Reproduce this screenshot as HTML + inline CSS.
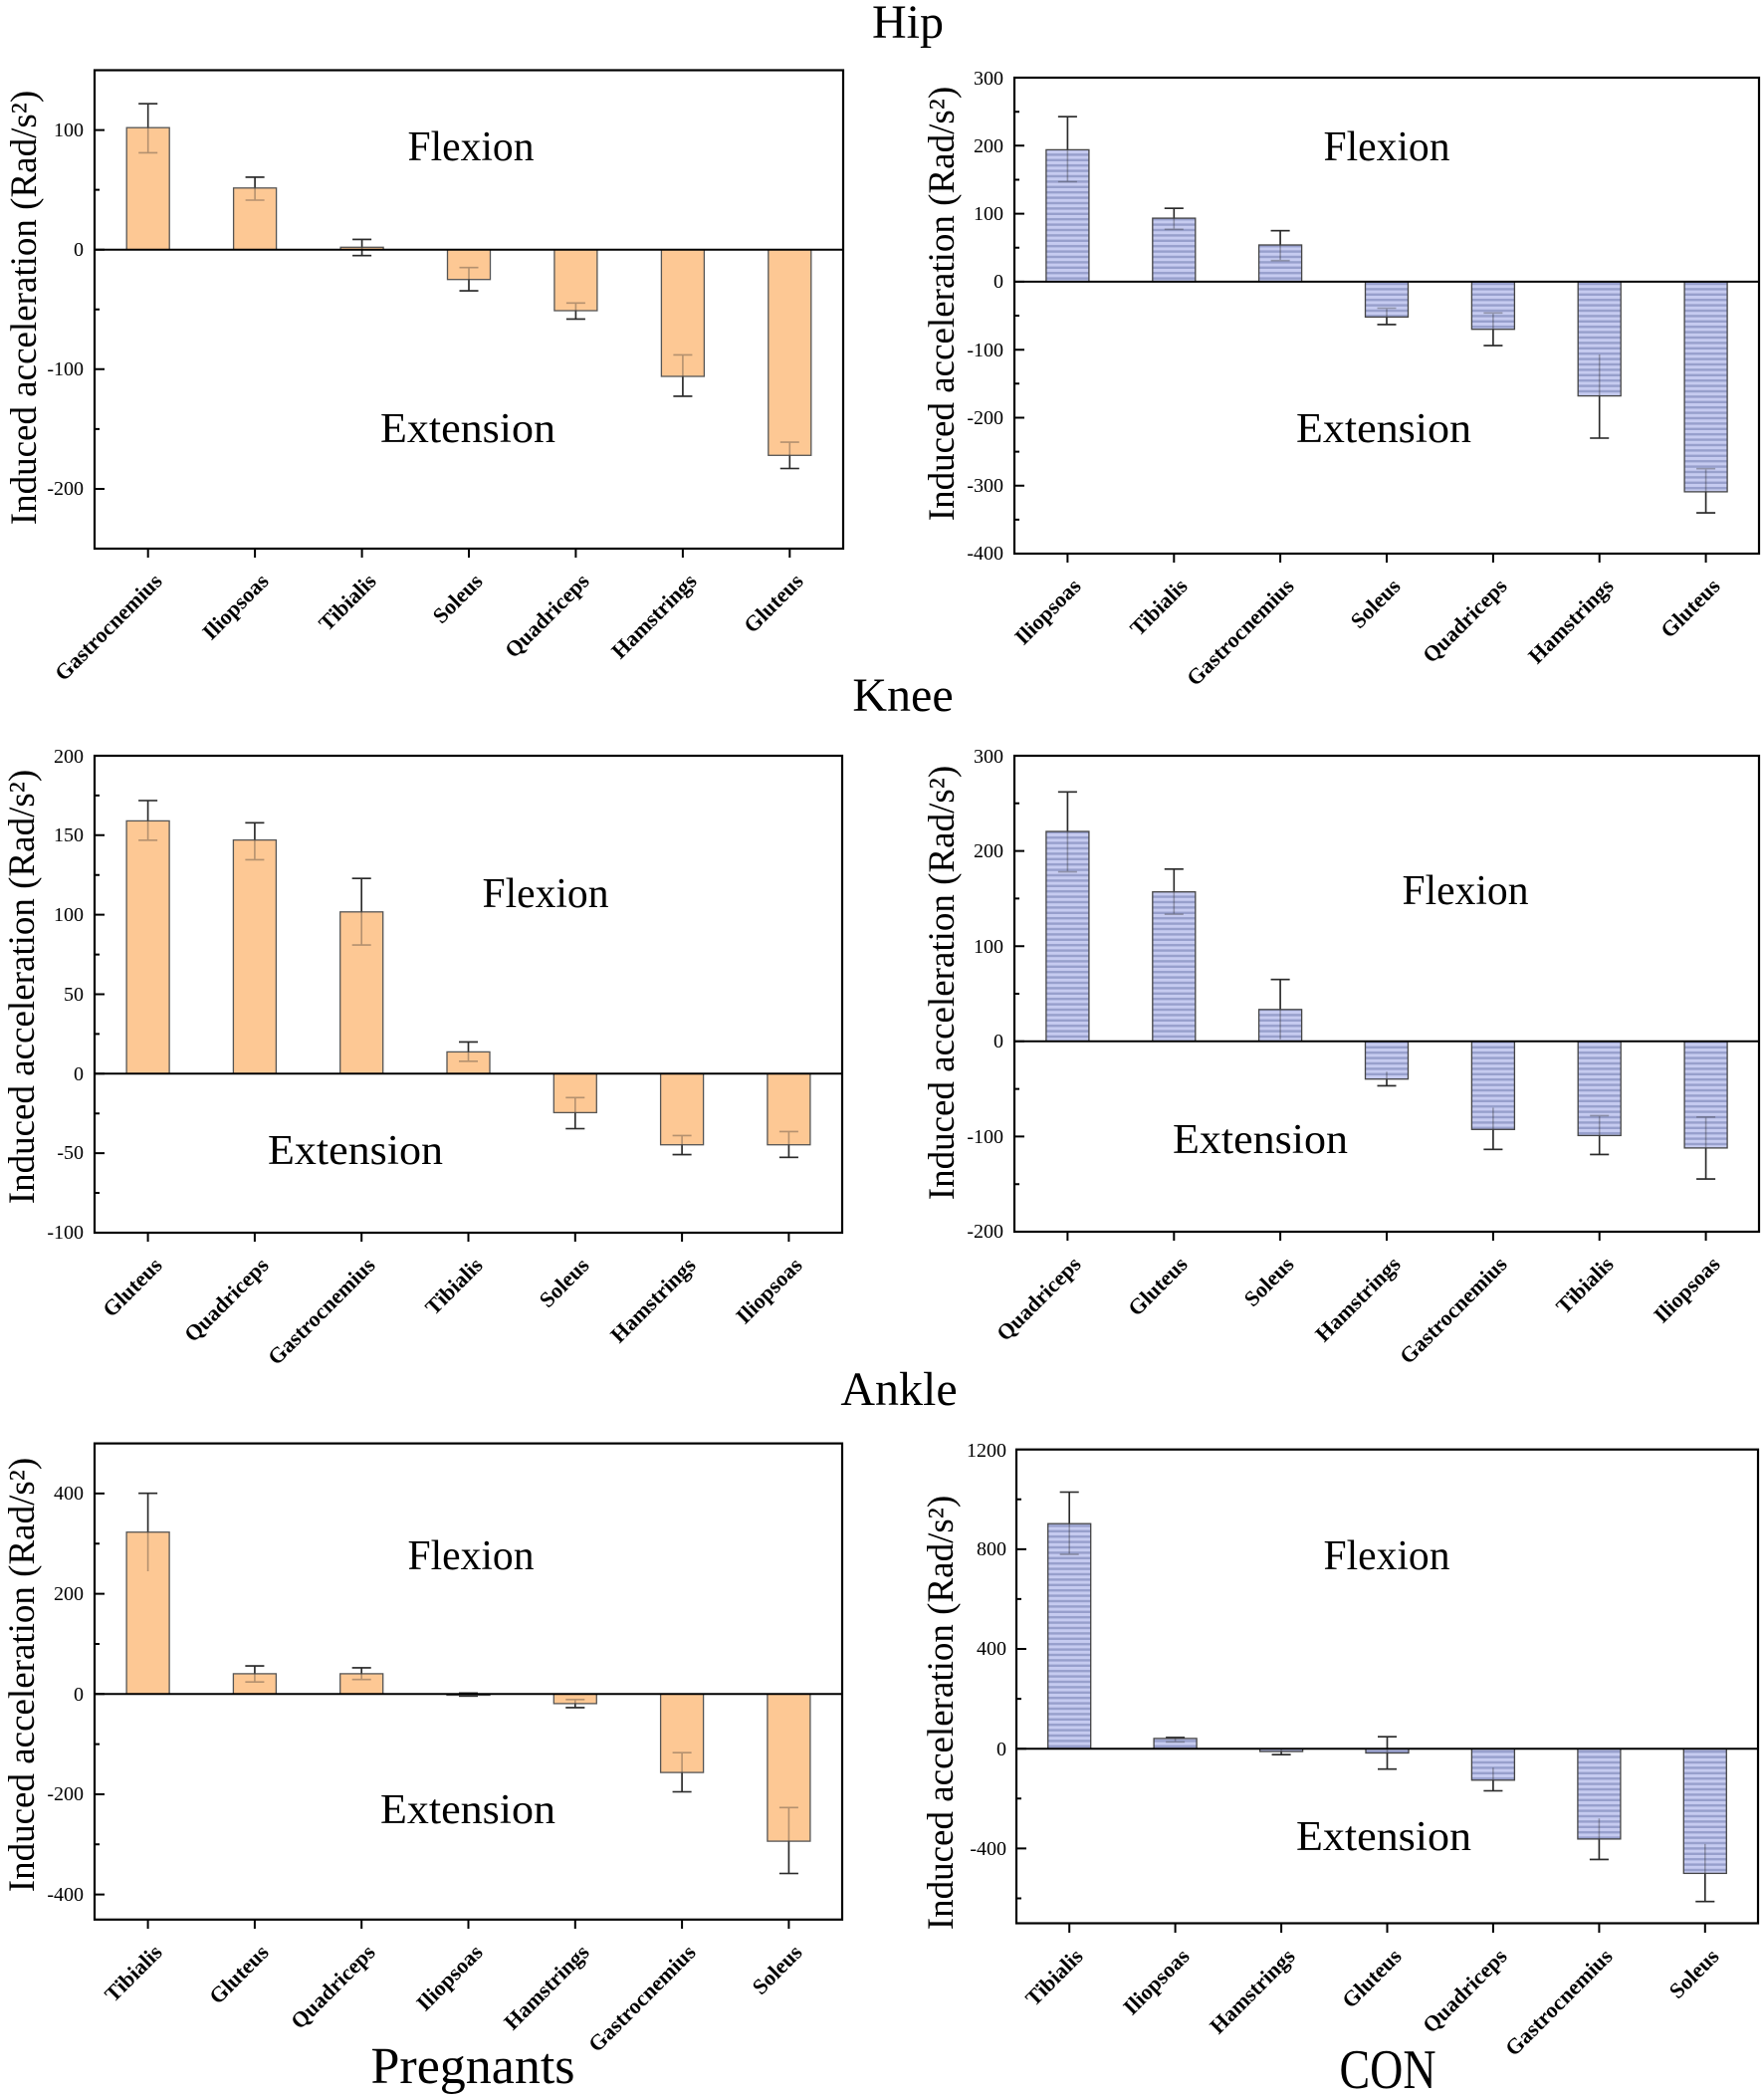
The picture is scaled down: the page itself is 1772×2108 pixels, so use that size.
<!DOCTYPE html>
<html><head><meta charset="utf-8"><style>
html,body{margin:0;padding:0;background:#fff;}
svg{display:block;}
text{font-family:"Liberation Serif","Times New Roman",serif;fill:#000;}
.tl{font-size:20px;text-anchor:end;}
.cl{font-size:22px;font-weight:bold;text-anchor:end;}
.yt{font-size:37px;text-anchor:middle;}
.fe{font-size:42px;text-anchor:middle;}
.tt{font-size:48px;text-anchor:middle;}
.box{fill:none;stroke:#000;stroke-width:2.2;}
.zero{stroke:#000;stroke-width:2;}
.tk{stroke:#000;stroke-width:2;fill:none;}
.err{stroke:#2a2a2a;stroke-width:1.6;fill:none;}
.ov{opacity:0.35;}
.ob{fill:#fdc894;stroke:#555;stroke-width:1.3;}
.bb{fill:url(#stripe);stroke:#444;stroke-width:1.3;}
</style></head><body>
<svg width="1772" height="2108" viewBox="0 0 1772 2108" xmlns="http://www.w3.org/2000/svg">
<defs>
<pattern id="stripe" patternUnits="userSpaceOnUse" width="10" height="5.4">
<rect x="0" y="0" width="10" height="5.4" fill="#c6cbf0"/>
<rect x="0" y="3" width="10" height="2.4" fill="#979fcc"/>
</pattern>
</defs>
<rect width="1772" height="2108" fill="#fff"/>

<!-- Titles -->
<text class="tt" x="912" y="38">Hip</text>
<text class="tt" x="907" y="714">Knee</text>
<text class="tt" x="903" y="1411">Ankle</text>
<text x="475" y="2092" style="font-size:52px;text-anchor:middle;">Pregnants</text>
<text x="1394" y="2097" style="font-size:56px;text-anchor:middle;" textLength="97" lengthAdjust="spacingAndGlyphs">CON</text>

<!-- ================= Panel A: Pregnant Hip ================= -->
<g>
<path id="eA" class="err" d="M148.7 104.2V153.4M139.2 104.2H158.2M139.2 153.4H158.2
M256.1 177.9V201M246.6 177.9H265.6M246.6 201H265.6
M363.6 240.4V256.7M354.1 240.4H373.1M354.1 256.7H373.1
M471 268.7V292.1M461.5 268.7H480.5M461.5 292.1H480.5
M578.4 304.3V320.4M568.9 304.3H587.9M568.9 320.4H587.9
M685.9 356.4V397.9M676.4 356.4H695.4M676.4 397.9H695.4
M793.3 444.1V470.5M783.8 444.1H802.8M783.8 470.5H802.8"/>
<rect class="ob" x="127.2" y="128.2" width="43" height="122.5"/>
<rect class="ob" x="234.6" y="188.8" width="43" height="61.9"/>
<rect class="ob" x="342.1" y="248.3" width="43" height="2.4"/>
<rect class="ob" x="449.5" y="250.7" width="43" height="30"/>
<rect class="ob" x="556.9" y="250.7" width="43" height="61.3"/>
<rect class="ob" x="664.4" y="250.7" width="43" height="127.3"/>
<rect class="ob" x="771.8" y="250.7" width="43" height="206.6"/>
<use href="#eA" class="ov"/>
<line class="zero" x1="95" y1="250.7" x2="847" y2="250.7"/>
<rect class="box" x="95" y="70.5" width="752" height="480.5"/>
<path class="tk" d="M95 130.6H105M95 250.7H105M95 370.8H105M95 491H105M95 190.6H100M95 310.8H100M95 430.9H100
M148.7 551V560M256.1 551V560M363.6 551V560M471 551V560M578.4 551V560M685.9 551V560M793.3 551V560"/>
<text class="tl" x="84" y="137">100</text>
<text class="tl" x="84" y="257">0</text>
<text class="tl" x="84" y="377">-100</text>
<text class="tl" x="84" y="497">-200</text>
<text class="cl" transform="translate(164,585) rotate(-45)">Gastrocnemius</text>
<text class="cl" transform="translate(271,585) rotate(-45)">Iliopsoas</text>
<text class="cl" transform="translate(379,585) rotate(-45)">Tibialis</text>
<text class="cl" transform="translate(486,585) rotate(-45)">Soleus</text>
<text class="cl" transform="translate(593,585) rotate(-45)">Quadriceps</text>
<text class="cl" transform="translate(701,585) rotate(-45)">Hamstrings</text>
<text class="cl" transform="translate(808,585) rotate(-45)">Gluteus</text>
<text class="yt" transform="translate(36,309) rotate(-90)">Induced acceleration (Rad/s²)</text>
<text class="fe" x="473" y="161" textLength="127" lengthAdjust="spacingAndGlyphs">Flexion</text>
<text class="fe" x="470" y="444" textLength="176" lengthAdjust="spacingAndGlyphs">Extension</text>
</g>

<!-- ================= Panel B: CON Hip ================= -->
<g>
<path id="eB" class="err" d="M1072.4 117.2V182.5M1062.9 117.2H1081.9M1062.9 182.5H1081.9
M1179.3 209.2V230.3M1169.8 209.2H1188.8M1169.8 230.3H1188.8
M1286.1 231.7V261.7M1276.6 231.7H1295.6M1276.6 261.7H1295.6
M1393 309.5V325.9M1383.5 309.5H1402.5M1383.5 325.9H1402.5
M1499.9 314.3V347.1M1490.4 314.3H1509.4M1490.4 347.1H1509.4
M1606.7 356V440M1597.2 440H1616.2
M1713.6 470.7V515.1M1704.1 470.7H1723.1M1704.1 515.1H1723.1"/>
<rect class="bb" x="1050.9" y="150.4" width="43" height="132.5"/>
<rect class="bb" x="1157.8" y="219.1" width="43" height="63.8"/>
<rect class="bb" x="1264.6" y="246" width="43" height="36.9"/>
<rect class="bb" x="1371.5" y="282.9" width="43" height="35.5"/>
<rect class="bb" x="1478.4" y="282.9" width="43" height="47.8"/>
<rect class="bb" x="1585.2" y="282.9" width="43" height="114.7"/>
<rect class="bb" x="1692.1" y="282.9" width="43" height="211"/>
<use href="#eB" class="ov"/>
<line class="zero" x1="1019" y1="282.9" x2="1767" y2="282.9"/>
<rect class="box" x="1019" y="78" width="748" height="478"/>
<path class="tk" d="M1019 146.3H1029M1019 214.6H1029M1019 282.9H1029M1019 351.2H1029M1019 419.5H1029M1019 487.8H1029
M1019 112.2H1024M1019 180.5H1024M1019 248.8H1024M1019 317H1024M1019 385.3H1024M1019 453.6H1024M1019 521.9H1024
M1072.4 556V565M1179.3 556V565M1286.1 556V565M1393 556V565M1499.9 556V565M1606.7 556V565M1713.6 556V565"/>
<text class="tl" x="1008" y="85">300</text>
<text class="tl" x="1008" y="153">200</text>
<text class="tl" x="1008" y="221">100</text>
<text class="tl" x="1008" y="289">0</text>
<text class="tl" x="1008" y="358">-100</text>
<text class="tl" x="1008" y="426">-200</text>
<text class="tl" x="1008" y="494">-300</text>
<text class="tl" x="1008" y="562">-400</text>
<text class="cl" transform="translate(1087,590) rotate(-45)">Iliopsoas</text>
<text class="cl" transform="translate(1194,590) rotate(-45)">Tibialis</text>
<text class="cl" transform="translate(1301,590) rotate(-45)">Gastrocnemius</text>
<text class="cl" transform="translate(1408,590) rotate(-45)">Soleus</text>
<text class="cl" transform="translate(1515,590) rotate(-45)">Quadriceps</text>
<text class="cl" transform="translate(1622,590) rotate(-45)">Hamstrings</text>
<text class="cl" transform="translate(1729,590) rotate(-45)">Gluteus</text>
<text class="yt" transform="translate(958,305) rotate(-90)">Induced acceleration (Rad/s²)</text>
<text class="fe" x="1393" y="161" textLength="127" lengthAdjust="spacingAndGlyphs">Flexion</text>
<text class="fe" x="1390" y="444" textLength="176" lengthAdjust="spacingAndGlyphs">Extension</text>
</g>

<!-- ================= Panel C: Pregnant Knee ================= -->
<g>
<path id="eC" class="err" d="M148.6 804V843.8M139.1 804H158.1M139.1 843.8H158.1
M255.9 826.3V863.4M246.4 826.3H265.4M246.4 863.4H265.4
M363.2 882.2V949.1M353.7 882.2H372.7M353.7 949.1H372.7
M470.5 1046.4V1065.8M461 1046.4H480M461 1065.8H480
M577.8 1102.3V1133.5M568.3 1102.3H587.3M568.3 1133.5H587.3
M685.1 1140.4V1159.6M675.6 1140.4H694.6M675.6 1159.6H694.6
M792.4 1136.4V1162.3M782.9 1136.4H801.9M782.9 1162.3H801.9"/>
<rect class="ob" x="127.1" y="824.4" width="43" height="253.9"/>
<rect class="ob" x="234.4" y="843.6" width="43" height="234.7"/>
<rect class="ob" x="341.7" y="915.8" width="43" height="162.5"/>
<rect class="ob" x="449" y="1056.4" width="43" height="21.9"/>
<rect class="ob" x="556.3" y="1078.3" width="43" height="39.1"/>
<rect class="ob" x="663.6" y="1078.3" width="43" height="71.4"/>
<rect class="ob" x="770.9" y="1078.3" width="43" height="71.4"/>
<use href="#eC" class="ov"/>
<line class="zero" x1="95" y1="1078.3" x2="846" y2="1078.3"/>
<rect class="box" x="95" y="759" width="751" height="479"/>
<path class="tk" d="M95 838.8H105M95 918.6H105M95 998.5H105M95 1078.3H105M95 1158.1H105
M95 798.9H100M95 878.7H100M95 958.6H100M95 1038.4H100M95 1118.2H100M95 1198H100
M148.6 1238V1247M255.9 1238V1247M363.2 1238V1247M470.5 1238V1247M577.8 1238V1247M685.1 1238V1247M792.4 1238V1247"/>
<text class="tl" x="84" y="766">200</text>
<text class="tl" x="84" y="845">150</text>
<text class="tl" x="84" y="925">100</text>
<text class="tl" x="84" y="1005">50</text>
<text class="tl" x="84" y="1085">0</text>
<text class="tl" x="84" y="1164">-50</text>
<text class="tl" x="84" y="1244">-100</text>
<text class="cl" transform="translate(164,1272) rotate(-45)">Gluteus</text>
<text class="cl" transform="translate(271,1272) rotate(-45)">Quadriceps</text>
<text class="cl" transform="translate(378,1272) rotate(-45)">Gastrocnemius</text>
<text class="cl" transform="translate(486,1272) rotate(-45)">Tibialis</text>
<text class="cl" transform="translate(593,1272) rotate(-45)">Soleus</text>
<text class="cl" transform="translate(700,1272) rotate(-45)">Hamstrings</text>
<text class="cl" transform="translate(807,1272) rotate(-45)">Iliopsoas</text>
<text class="yt" transform="translate(34,991) rotate(-90)">Induced acceleration (Rad/s²)</text>
<text class="fe" x="548" y="911" textLength="127" lengthAdjust="spacingAndGlyphs">Flexion</text>
<text class="fe" x="357" y="1169" textLength="176" lengthAdjust="spacingAndGlyphs">Extension</text>
</g>

<!-- ================= Panel D: CON Knee ================= -->
<g>
<path id="eD" class="err" d="M1072.4 795.3V875.6M1062.9 795.3H1081.9M1062.9 875.6H1081.9
M1179.3 872.8V918.2M1169.8 872.8H1188.8M1169.8 918.2H1188.8
M1286.1 983.7V1043.9M1276.6 983.7H1295.6
M1393 1076.4V1090.4M1383.5 1090.4H1402.5
M1499.9 1112.5V1154.3M1490.4 1154.3H1509.4
M1606.7 1120.4V1159.4M1597.2 1120.4H1616.2M1597.2 1159.4H1616.2
M1713.6 1121.8V1184.1M1704.1 1121.8H1723.1M1704.1 1184.1H1723.1"/>
<rect class="bb" x="1050.9" y="835" width="43" height="210.8"/>
<rect class="bb" x="1157.8" y="895.7" width="43" height="150.1"/>
<rect class="bb" x="1264.6" y="1013.8" width="43" height="32"/>
<rect class="bb" x="1371.5" y="1045.8" width="43" height="37.9"/>
<rect class="bb" x="1478.4" y="1045.8" width="43" height="88.5"/>
<rect class="bb" x="1585.2" y="1045.8" width="43" height="94.6"/>
<rect class="bb" x="1692.1" y="1045.8" width="43" height="107.1"/>
<use href="#eD" class="ov"/>
<line class="zero" x1="1019" y1="1045.8" x2="1767" y2="1045.8"/>
<rect class="box" x="1019" y="759" width="748" height="478"/>
<path class="tk" d="M1019 854.6H1029M1019 950.2H1029M1019 1045.8H1029M1019 1141.4H1029
M1019 806.8H1024M1019 902.4H1024M1019 998H1024M1019 1093.6H1024M1019 1189.2H1024
M1072.4 1237V1246M1179.3 1237V1246M1286.1 1237V1246M1393 1237V1246M1499.9 1237V1246M1606.7 1237V1246M1713.6 1237V1246"/>
<text class="tl" x="1008" y="766">300</text>
<text class="tl" x="1008" y="861">200</text>
<text class="tl" x="1008" y="957">100</text>
<text class="tl" x="1008" y="1052">0</text>
<text class="tl" x="1008" y="1148">-100</text>
<text class="tl" x="1008" y="1243">-200</text>
<text class="cl" transform="translate(1087,1271) rotate(-45)">Quadriceps</text>
<text class="cl" transform="translate(1194,1271) rotate(-45)">Gluteus</text>
<text class="cl" transform="translate(1301,1271) rotate(-45)">Soleus</text>
<text class="cl" transform="translate(1408,1271) rotate(-45)">Hamstrings</text>
<text class="cl" transform="translate(1515,1271) rotate(-45)">Gastrocnemius</text>
<text class="cl" transform="translate(1622,1271) rotate(-45)">Tibialis</text>
<text class="cl" transform="translate(1729,1271) rotate(-45)">Iliopsoas</text>
<text class="yt" transform="translate(958,987) rotate(-90)">Induced acceleration (Rad/s²)</text>
<text class="fe" x="1472" y="908" textLength="127" lengthAdjust="spacingAndGlyphs">Flexion</text>
<text class="fe" x="1266" y="1158" textLength="176" lengthAdjust="spacingAndGlyphs">Extension</text>
</g>

<!-- ================= Panel E: Pregnant Ankle ================= -->
<g>
<path id="eE" class="err" d="M148.6 1499.7V1578M139.1 1499.7H158.1
M255.9 1673.1V1689.2M246.4 1673.1H265.4M246.4 1689.2H265.4
M363.2 1674.9V1686.7M353.7 1674.9H372.7M353.7 1686.7H372.7
M470.5 1700.3V1703.3M461 1700.3H480M461 1703.3H480
M577.8 1706.8V1714.9M568.3 1706.8H587.3M568.3 1714.9H587.3
M685.1 1760.2V1799.5M675.6 1760.2H694.6M675.6 1799.5H694.6
M792.4 1815.3V1881.5M782.9 1815.3H801.9M782.9 1881.5H801.9"/>
<rect class="ob" x="127.1" y="1538.7" width="43" height="162.6"/>
<rect class="ob" x="234.4" y="1680.9" width="43" height="20.4"/>
<rect class="ob" x="341.7" y="1680.9" width="43" height="20.4"/>
<rect class="ob" x="449" y="1701.3" width="43" height="1.2"/>
<rect class="ob" x="556.3" y="1701.3" width="43" height="9.6"/>
<rect class="ob" x="663.6" y="1701.3" width="43" height="78.8"/>
<rect class="ob" x="770.9" y="1701.3" width="43" height="147.8"/>
<use href="#eE" class="ov"/>
<line class="zero" x1="95" y1="1701.3" x2="846" y2="1701.3"/>
<rect class="box" x="95" y="1449.6" width="751" height="478.2"/>
<path class="tk" d="M95 1499.9H105M95 1600.6H105M95 1701.3H105M95 1802H105M95 1902.6H105
M95 1550.3H100M95 1651H100M95 1751.6H100M95 1852.3H100
M148.6 1927.8V1937M255.9 1927.8V1937M363.2 1927.8V1937M470.5 1927.8V1937M577.8 1927.8V1937M685.1 1927.8V1937M792.4 1927.8V1937"/>
<text class="tl" x="84" y="1506">400</text>
<text class="tl" x="84" y="1607">200</text>
<text class="tl" x="84" y="1708">0</text>
<text class="tl" x="84" y="1808">-200</text>
<text class="tl" x="84" y="1909">-400</text>
<text class="cl" transform="translate(164,1962) rotate(-45)">Tibialis</text>
<text class="cl" transform="translate(271,1962) rotate(-45)">Gluteus</text>
<text class="cl" transform="translate(378,1962) rotate(-45)">Quadriceps</text>
<text class="cl" transform="translate(486,1962) rotate(-45)">Iliopsoas</text>
<text class="cl" transform="translate(593,1962) rotate(-45)">Hamstrings</text>
<text class="cl" transform="translate(700,1962) rotate(-45)">Gastrocnemius</text>
<text class="cl" transform="translate(807,1962) rotate(-45)">Soleus</text>
<text class="yt" transform="translate(34,1682) rotate(-90)">Induced acceleration (Rad/s²)</text>
<text class="fe" x="473" y="1576" textLength="127" lengthAdjust="spacingAndGlyphs">Flexion</text>
<text class="fe" x="470" y="1831" textLength="176" lengthAdjust="spacingAndGlyphs">Extension</text>
</g>

<!-- ================= Panel F: CON Ankle ================= -->
<g>
<path id="eF" class="err" d="M1074.2 1498.5V1561.1M1064.7 1498.5H1083.7M1064.7 1561.1H1083.7
M1180.6 1744.9V1749.4M1171.1 1744.9H1190.1M1171.1 1749.4H1190.1
M1287.1 1757V1762.2M1277.6 1762.2H1296.6
M1393.5 1744.2V1776.7M1384 1744.2H1403M1384 1776.7H1403
M1499.9 1775.2V1798.5M1490.4 1798.5H1509.4
M1606.4 1826.3V1867.4M1596.9 1867.4H1615.9
M1712.8 1851.9V1909.7M1703.3 1909.7H1722.3"/>
<rect class="bb" x="1052.7" y="1530.2" width="43" height="226"/>
<rect class="bb" x="1159.1" y="1745.9" width="43" height="10.3"/>
<rect class="bb" x="1265.6" y="1756.2" width="43" height="2.8"/>
<rect class="bb" x="1372" y="1756.2" width="43" height="4.3"/>
<rect class="bb" x="1478.4" y="1756.2" width="43" height="31.6"/>
<rect class="bb" x="1584.9" y="1756.2" width="43" height="90.7"/>
<rect class="bb" x="1691.3" y="1756.2" width="43" height="125.2"/>
<use href="#eF" class="ov"/>
<line class="zero" x1="1021" y1="1756.2" x2="1766" y2="1756.2"/>
<rect class="box" x="1021" y="1455.7" width="745" height="475.8"/>
<path class="tk" d="M1021 1555.9H1031M1021 1656H1031M1021 1756.2H1031M1021 1856.4H1031
M1021 1505.8H1026M1021 1605.9H1026M1021 1706.1H1026M1021 1806.3H1026M1021 1906.5H1026
M1074.2 1931.5V1941M1180.6 1931.5V1941M1287.1 1931.5V1941M1393.5 1931.5V1941M1499.9 1931.5V1941M1606.4 1931.5V1941M1712.8 1931.5V1941"/>
<text class="tl" x="1011" y="1463">1200</text>
<text class="tl" x="1011" y="1562">800</text>
<text class="tl" x="1011" y="1662">400</text>
<text class="tl" x="1011" y="1763">0</text>
<text class="tl" x="1011" y="1863">-400</text>
<text class="cl" transform="translate(1089,1966) rotate(-45)">Tibialis</text>
<text class="cl" transform="translate(1196,1966) rotate(-45)">Iliopsoas</text>
<text class="cl" transform="translate(1302,1966) rotate(-45)">Hamstrings</text>
<text class="cl" transform="translate(1409,1966) rotate(-45)">Gluteus</text>
<text class="cl" transform="translate(1515,1966) rotate(-45)">Quadriceps</text>
<text class="cl" transform="translate(1621,1966) rotate(-45)">Gastrocnemius</text>
<text class="cl" transform="translate(1728,1966) rotate(-45)">Soleus</text>
<text class="yt" transform="translate(957,1720) rotate(-90)">Induced acceleration (Rad/s²)</text>
<text class="fe" x="1393" y="1576" textLength="127" lengthAdjust="spacingAndGlyphs">Flexion</text>
<text class="fe" x="1390" y="1858" textLength="176" lengthAdjust="spacingAndGlyphs">Extension</text>
</g>
</svg>
</body></html>
